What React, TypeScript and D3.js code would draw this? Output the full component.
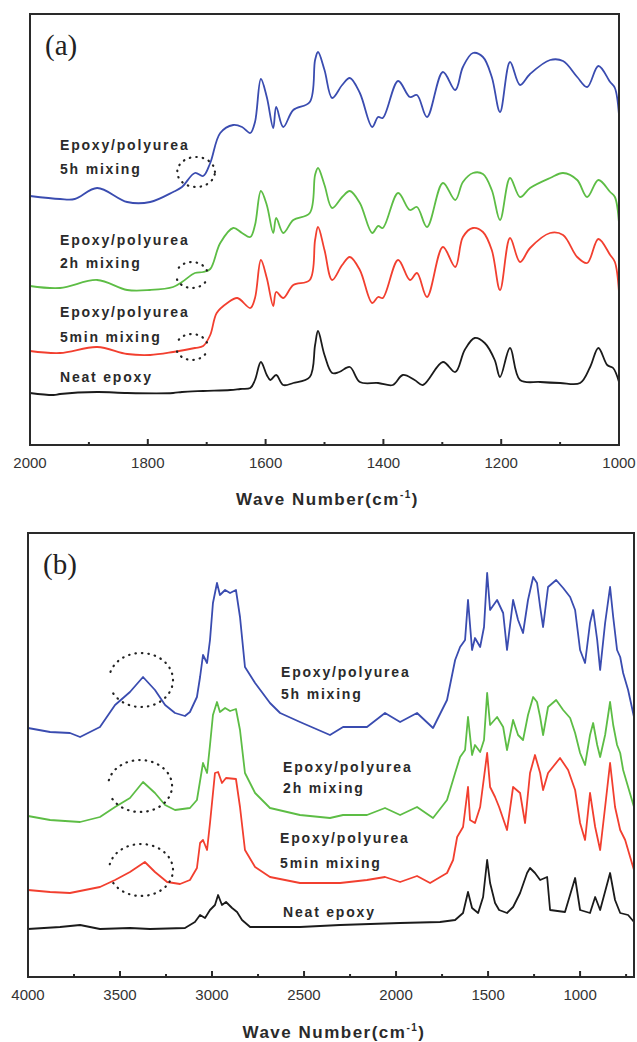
import React from "react";
import * as d3 from "d3";

type Pt = [number, number];

// ---- panel (a): 2000 - 1000 cm-1 ----
const majorTicksA = [2000, 1800, 1600, 1400, 1200, 1000];
const minorTicksA = [1900, 1700, 1500, 1300, 1100];

const blueA: Pt[] = [
  [2000, 2.49], [1949, 2.46], [1924, 2.46], [1886, 2.57], [1835, 2.43], [1796, 2.43],
  [1757, 2.53], [1742, 2.58], [1720, 2.72], [1706, 2.69], [1694, 2.82], [1677, 3.12],
  [1655, 3.2], [1640, 3.18], [1626, 3.12], [1618, 3.23], [1608, 3.66], [1598, 3.48],
  [1587, 3.17], [1582, 3.38], [1570, 3.18], [1553, 3.35], [1525, 3.43], [1516, 3.85],
  [1511, 3.93], [1500, 3.75], [1487, 3.47], [1470, 3.6], [1457, 3.67], [1440, 3.52],
  [1419, 3.18], [1409, 3.28], [1401, 3.27], [1375, 3.64], [1355, 3.48], [1343, 3.5],
  [1326, 3.28], [1299, 3.73], [1278, 3.55], [1265, 3.78], [1248, 3.92], [1231, 3.88],
  [1216, 3.68], [1202, 3.33], [1185, 3.83], [1168, 3.6], [1151, 3.71], [1117, 3.85],
  [1095, 3.84], [1071, 3.68], [1054, 3.58], [1035, 3.79], [1015, 3.63], [1007, 3.57],
  [1000, 3.3],
];
const greenA: Pt[] = [
  [2000, 1.59], [1949, 1.57], [1886, 1.65], [1835, 1.55], [1796, 1.55], [1757, 1.58],
  [1742, 1.63], [1720, 1.72], [1706, 1.73], [1694, 1.76], [1677, 2.02], [1655, 2.17],
  [1640, 2.12], [1626, 2.08], [1618, 2.2], [1608, 2.54], [1598, 2.4], [1587, 2.12],
  [1582, 2.27], [1570, 2.12], [1553, 2.25], [1525, 2.32], [1516, 2.7], [1511, 2.77],
  [1500, 2.6], [1487, 2.37], [1470, 2.48], [1457, 2.54], [1440, 2.42], [1419, 2.12],
  [1409, 2.19], [1401, 2.17], [1375, 2.52], [1355, 2.35], [1343, 2.38], [1326, 2.18],
  [1299, 2.62], [1278, 2.45], [1265, 2.63], [1248, 2.72], [1231, 2.71], [1216, 2.55],
  [1202, 2.25], [1185, 2.67], [1168, 2.48], [1151, 2.57], [1117, 2.67], [1095, 2.72],
  [1071, 2.65], [1054, 2.48], [1035, 2.65], [1015, 2.53], [1007, 2.48], [1000, 2.22],
];
const redA: Pt[] = [
  [2000, 0.94], [1949, 0.92], [1886, 0.98], [1835, 0.91], [1796, 0.9], [1757, 0.93],
  [1720, 0.97], [1706, 0.99], [1694, 1.1], [1683, 1.32], [1665, 1.42], [1648, 1.47],
  [1626, 1.37], [1618, 1.47], [1608, 1.85], [1598, 1.67], [1587, 1.39], [1582, 1.53],
  [1570, 1.47], [1553, 1.6], [1525, 1.65], [1516, 2.05], [1511, 2.18], [1500, 1.95],
  [1487, 1.65], [1470, 1.8], [1457, 1.88], [1440, 1.75], [1419, 1.42], [1409, 1.48],
  [1401, 1.47], [1375, 1.85], [1355, 1.65], [1343, 1.72], [1326, 1.48], [1299, 1.98],
  [1278, 1.78], [1265, 2.08], [1248, 2.17], [1231, 2.13], [1216, 1.95], [1202, 1.55],
  [1185, 2.07], [1168, 1.83], [1151, 1.97], [1117, 2.12], [1095, 2.1], [1071, 1.88],
  [1054, 1.82], [1035, 2.06], [1015, 1.9], [1007, 1.83], [1000, 1.53],
];
const blackA: Pt[] = [
  [2000, 0.52], [1960, 0.5], [1949, 0.51], [1886, 0.53], [1835, 0.52], [1757, 0.52],
  [1742, 0.53], [1706, 0.54], [1660, 0.55], [1643, 0.56], [1626, 0.57], [1618, 0.65],
  [1608, 0.83], [1598, 0.7], [1592, 0.65], [1582, 0.7], [1570, 0.6], [1553, 0.62],
  [1525, 0.68], [1516, 1.0], [1511, 1.14], [1500, 0.9], [1487, 0.72], [1475, 0.73],
  [1457, 0.78], [1440, 0.63], [1409, 0.62], [1384, 0.6], [1367, 0.7], [1347, 0.65],
  [1333, 0.6], [1299, 0.83], [1278, 0.73], [1262, 0.95], [1245, 1.07], [1228, 1.02],
  [1211, 0.85], [1202, 0.68], [1185, 0.97], [1168, 0.65], [1134, 0.63], [1100, 0.62],
  [1066, 0.62], [1049, 0.78], [1035, 0.97], [1020, 0.8], [1010, 0.77], [1000, 0.63],
];

// ---- panel (b): 4000 - ~700 cm-1 ----
const majorTicksB = [4000, 3500, 3000, 2500, 2000, 1500, 1000];
const minorTicksB = [3750, 3250, 2750, 2250, 1750, 1250, 750];

const blueB: Pt[] = [
  [4000, 2.49], [3880, 2.45], [3772, 2.44], [3717, 2.4], [3609, 2.5], [3527, 2.72],
  [3446, 2.85], [3375, 3.0], [3310, 2.87], [3255, 2.72], [3201, 2.64], [3147, 2.61],
  [3120, 2.65], [3082, 2.8], [3065, 3.0], [3049, 3.22], [3027, 3.14], [3011, 3.37],
  [2995, 3.74], [2973, 3.94], [2957, 3.82], [2929, 3.87], [2902, 3.84], [2870, 3.87],
  [2848, 3.6], [2821, 3.1], [2766, 2.94], [2685, 2.74], [2630, 2.64], [2522, 2.55],
  [2359, 2.42], [2288, 2.5], [2158, 2.5], [2060, 2.64], [1978, 2.55], [1886, 2.64],
  [1799, 2.49], [1723, 2.77], [1679, 3.17], [1652, 3.3], [1625, 3.37], [1609, 3.77],
  [1587, 3.27], [1571, 3.39], [1543, 3.3], [1522, 3.5], [1505, 4.04], [1489, 3.67],
  [1451, 3.77], [1418, 3.64], [1397, 3.27], [1364, 3.77], [1337, 3.57], [1310, 3.44],
  [1283, 3.77], [1255, 4.0], [1234, 3.94], [1217, 3.7], [1201, 3.5], [1174, 3.9],
  [1130, 3.97], [1092, 3.89], [1054, 3.8], [1027, 3.67], [1000, 3.27], [973, 3.14],
  [946, 3.54], [929, 3.67], [907, 3.37], [891, 3.07], [864, 3.54], [837, 3.9],
  [820, 3.6], [799, 3.27], [782, 3.2], [766, 3.04], [739, 2.87], [707, 2.6],
];
const greenB: Pt[] = [
  [4000, 1.61], [3880, 1.57], [3717, 1.55], [3609, 1.6], [3527, 1.7], [3446, 1.79],
  [3375, 1.95], [3310, 1.84], [3255, 1.72], [3201, 1.67], [3120, 1.69], [3082, 1.77],
  [3049, 2.14], [3027, 2.04], [3011, 2.32], [2995, 2.62], [2973, 2.75], [2957, 2.65],
  [2929, 2.69], [2902, 2.66], [2870, 2.68], [2848, 2.47], [2821, 2.04], [2766, 1.84],
  [2685, 1.69], [2522, 1.62], [2359, 1.59], [2288, 1.62], [2158, 1.62], [2060, 1.69],
  [1978, 1.62], [1886, 1.7], [1799, 1.59], [1723, 1.77], [1679, 2.04], [1652, 2.2],
  [1625, 2.27], [1609, 2.6], [1587, 2.22], [1571, 2.32], [1543, 2.25], [1522, 2.37],
  [1505, 2.84], [1489, 2.52], [1451, 2.6], [1418, 2.5], [1397, 2.27], [1364, 2.57],
  [1337, 2.42], [1310, 2.37], [1283, 2.62], [1255, 2.8], [1234, 2.75], [1217, 2.6],
  [1201, 2.42], [1174, 2.7], [1130, 2.77], [1092, 2.67], [1054, 2.59], [1027, 2.44],
  [1000, 2.24], [973, 2.12], [946, 2.42], [929, 2.54], [907, 2.32], [891, 2.2],
  [864, 2.42], [837, 2.75], [820, 2.52], [799, 2.32], [782, 2.24], [766, 2.07],
  [739, 1.9], [707, 1.7],
];
const redB: Pt[] = [
  [4000, 0.87], [3880, 0.85], [3772, 0.84], [3609, 0.9], [3527, 0.97], [3446, 1.05],
  [3365, 1.15], [3310, 1.05], [3244, 0.95], [3174, 0.93], [3120, 0.97], [3082, 1.09],
  [3065, 1.34], [3049, 1.37], [3027, 1.27], [3011, 1.54], [2984, 2.04], [2967, 2.05],
  [2946, 1.94], [2924, 1.99], [2870, 1.98], [2848, 1.7], [2821, 1.27], [2766, 1.1],
  [2685, 1.0], [2522, 0.94], [2304, 0.94], [2158, 0.97], [2060, 1.0], [1978, 0.95],
  [1886, 1.01], [1815, 0.94], [1723, 1.04], [1690, 1.17], [1668, 1.4], [1636, 1.5],
  [1609, 1.9], [1598, 1.57], [1571, 1.54], [1543, 1.7], [1505, 2.24], [1489, 1.9],
  [1462, 1.8], [1440, 1.7], [1397, 1.47], [1364, 1.9], [1326, 1.84], [1299, 1.54],
  [1272, 2.04], [1245, 2.22], [1217, 2.04], [1201, 1.87], [1174, 2.04], [1109, 2.19],
  [1065, 2.07], [1027, 1.87], [1000, 1.54], [973, 1.37], [946, 1.84], [918, 1.5],
  [891, 1.27], [864, 1.7], [837, 2.14], [810, 1.7], [782, 1.47], [755, 1.37],
  [728, 1.2], [707, 1.07],
];
const blackB: Pt[] = [
  [4000, 0.48], [3826, 0.5], [3717, 0.52], [3609, 0.48], [3446, 0.49], [3337, 0.48],
  [3147, 0.49], [3093, 0.55], [3065, 0.62], [3038, 0.59], [3011, 0.67], [2984, 0.72],
  [2967, 0.82], [2946, 0.72], [2924, 0.75], [2891, 0.69], [2864, 0.65], [2837, 0.57],
  [2793, 0.5], [2522, 0.5], [2304, 0.52], [1978, 0.54], [1761, 0.55], [1679, 0.57],
  [1636, 0.64], [1609, 0.85], [1587, 0.69], [1554, 0.64], [1527, 0.8], [1505, 1.17],
  [1489, 0.94], [1462, 0.74], [1440, 0.67], [1397, 0.64], [1364, 0.7], [1326, 0.84],
  [1288, 1.04], [1272, 1.09], [1245, 1.04], [1217, 0.97], [1179, 1.0], [1163, 0.67],
  [1082, 0.65], [1027, 0.99], [1000, 0.67], [946, 0.64], [918, 0.8], [891, 0.67],
  [837, 1.04], [810, 0.77], [782, 0.64], [739, 0.62], [707, 0.55],
];

const colors = ["#3a4cb0", "#5dbd45", "#f23f2f", "#1b1b1b"];
const labelFont = "Liberation Sans, Arial, sans-serif";

const panels = [
  {
    tag: "(a)",
    domain: [2000, 1000],
    yMax: 4.31,
    box: { left: 30, right: 619, top: 14, bottom: 445 },
    major: majorTicksA,
    minor: minorTicksA,
    series: [blueA, greenA, redA, blackA],
    smooth: true,
    labels: [
      { wn: 1949, v: 2.95, lines: ["Epoxy/polyurea", "5h mixing"], gap: 24 },
      { wn: 1949, v: 2.0, lines: ["Epoxy/polyurea", "2h mixing"], gap: 23 },
      { wn: 1949, v: 1.28, lines: ["Epoxy/polyurea", "5min mixing"], gap: 25 },
      { wn: 1949, v: 0.63, lines: ["Neat epoxy"], gap: 0 },
    ],
    rings: [
      { wn: 1718, v: 2.73, rx: 32, ry: 0.15, a0: 0, a1: 360 },
      { wn: 1725, v: 1.7, rx: 27, ry: 0.13, a0: 200, a1: 340 },
      { wn: 1725, v: 1.7, rx: 27, ry: 0.13, a0: 20, a1: 160 },
      { wn: 1725, v: 0.98, rx: 27, ry: 0.13, a0: 200, a1: 340 },
      { wn: 1725, v: 0.98, rx: 27, ry: 0.13, a0: 20, a1: 160 },
    ],
    titleY: 505,
  },
  {
    tag: "(b)",
    domain: [4000, 707],
    yMax: 4.44,
    box: { left: 28, right: 634, top: 533, bottom: 977 },
    major: majorTicksB,
    minor: minorTicksB,
    series: [blueB, greenB, redB, blackB],
    smooth: false,
    labels: [
      { wn: 2625, v: 3.0, lines: ["Epoxy/polyurea", "5h mixing"], gap: 22 },
      { wn: 2614, v: 2.05, lines: ["Epoxy/polyurea", "2h mixing"], gap: 21 },
      { wn: 2630, v: 1.34, lines: ["Epoxy/polyurea", "5min mixing"], gap: 25 },
      { wn: 2614, v: 0.6, lines: ["Neat epoxy"], gap: 0 },
    ],
    rings: [
      { wn: 3386, v: 2.97, rx: 174, ry: 0.27, a0: -150, a1: 170 },
      { wn: 3391, v: 1.91, rx: 174, ry: 0.26, a0: -150, a1: 170 },
      { wn: 3386, v: 1.07, rx: 174, ry: 0.26, a0: -150, a1: 170 },
    ],
    titleY: 1038,
  },
];

function Panel({ p }: { p: (typeof panels)[number] }) {
  const { box } = p;
  const x = d3.scaleLinear().domain(p.domain).range([box.left, box.right]);
  const y = d3.scaleLinear().domain([0, p.yMax]).range([box.bottom, box.top]);
  const line = d3
    .line<Pt>()
    .x((d) => x(d[0]))
    .y((d) => y(d[1]))
    .curve(p.smooth ? d3.curveCatmullRom.alpha(0.5) : d3.curveLinear);

  // dotted ring made from points on an ellipse (angles in degrees, 0 = right, counter-clockwise)
  const ringPath = (r: (typeof p.rings)[number]) => {
    const cx = x(r.wn);
    const cy = y(r.v);
    const rx = Math.abs(x(r.wn + r.rx) - cx);
    const ry = Math.abs(y(r.v + r.ry) - cy);
    const pts = d3.range(r.a0, r.a1 + 1, 5).map((a) => {
      const t = (a * Math.PI) / 180;
      return [cx + rx * Math.cos(t), cy - ry * Math.sin(t)] as [number, number];
    });
    return d3.line()(pts) || "";
  };

  return (
    <g>
      {p.series.map((s, i) => (
        <path
          key={i}
          d={line(s) || ""}
          fill="none"
          stroke={colors[i]}
          strokeWidth={1.8}
          strokeLinejoin="round"
        />
      ))}
      {p.rings.map((r, i) => (
        <path
          key={"r" + i}
          d={ringPath(r)}
          fill="none"
          stroke="#222"
          strokeWidth={2.2}
          strokeLinecap="round"
          strokeDasharray="0.5 6"
        />
      ))}
      <rect
        x={box.left}
        y={box.top}
        width={box.right - box.left}
        height={box.bottom - box.top}
        fill="none"
        stroke="#2a2a2a"
        strokeWidth={2}
      />
      {p.major.map((t) => (
        <g key={"M" + t}>
          <line x1={x(t)} x2={x(t)} y1={box.bottom} y2={box.bottom - 6} stroke="#2a2a2a" strokeWidth={2} />
          <text
            x={x(t)}
            y={box.bottom + 23}
            textAnchor="middle"
            fontFamily={labelFont}
            fontSize={15}
            fill="#333"
          >
            {t}
          </text>
        </g>
      ))}
      {p.minor.map((t) => (
        <line key={"m" + t} x1={x(t)} x2={x(t)} y1={box.bottom} y2={box.bottom - 3} stroke="#2a2a2a" strokeWidth={2} />
      ))}
      {p.labels.map((l, i) => (
        <text
          key={"l" + i}
          x={x(l.wn)}
          y={y(l.v)}
          fontFamily={labelFont}
          fontWeight="bold"
          fontSize={14}
          letterSpacing={1.8}
          fill="#2a2a2a"
        >
          {l.lines.map((ln, j) => (
            <tspan key={j} x={x(l.wn)} dy={j === 0 ? 0 : l.gap}>
              {ln}
            </tspan>
          ))}
        </text>
      ))}
      <text x={box.left + 15} y={box.top + 41} fontFamily="Liberation Serif, serif" fontSize={29} fill="#222">
        {p.tag}
      </text>
      <text
        x={(box.left + box.right) / 2 + 3}
        y={p.titleY}
        textAnchor="middle"
        fontFamily={labelFont}
        fontWeight="bold"
        fontSize={17}
        letterSpacing={1.5}
        fill="#2a2a2a"
      >
        Wave Number(cm
        <tspan fontSize={10} dy={-7}>-1</tspan>
        <tspan dy={7}>)</tspan>
      </text>
    </g>
  );
}

export default function App() {
  return (
    <svg
      width={637}
      height={1042}
      style={{ position: "absolute", left: 0, top: 0, background: "#fff" }}
    >
      {panels.map((p) => (
        <Panel key={p.tag} p={p} />
      ))}
    </svg>
  );
}
